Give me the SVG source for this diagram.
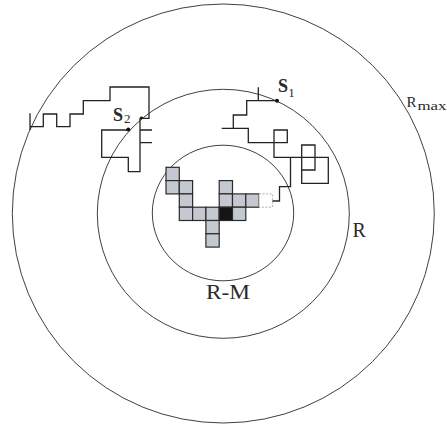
<svg xmlns="http://www.w3.org/2000/svg" width="447" height="426" viewBox="0 0 447 426">
<defs>
<style>
.ring{fill:none;stroke:#2a2a2a;stroke-width:0.9}
.walk{fill:none;stroke:#222;stroke-width:1.3;stroke-linejoin:miter}
.cell{fill:#c4c8d0;stroke:#2a2a2a;stroke-width:1.2}
.core{fill:#151515;stroke:#2a2a2a;stroke-width:1.2}
.ghost{fill:#fff;stroke:#b0b0b0;stroke-width:1;stroke-dasharray:2 1.5}
text{font-family:'Liberation Serif',serif;fill:#2a2a2a}
</style>
</defs>
<rect width="447" height="426" fill="#fff"/>
<g id="rings">
<ellipse id="ring-rmax" class="ring" cx="223.3" cy="213.5" rx="211" ry="209.5"/>
<ellipse id="ring-r" class="ring" cx="223.3" cy="213.8" rx="126" ry="124.5"/>
<ellipse id="ring-rm" class="ring" cx="223" cy="213" rx="70.7" ry="67.8"/>
</g>
<g id="cluster">
<rect class="cell" x="166" y="167.3" width="13.3" height="13.3"/>
<rect class="cell" x="166" y="180.6" width="13.3" height="13.3"/>
<rect class="cell" x="179.3" y="180.6" width="13.3" height="13.3"/>
<rect class="cell" x="219.2" y="180.6" width="13.3" height="13.3"/>
<rect class="cell" x="179.3" y="193.9" width="13.3" height="13.3"/>
<rect class="cell" x="219.2" y="193.9" width="13.3" height="13.3"/>
<rect class="cell" x="232.5" y="193.9" width="13.3" height="13.3"/>
<rect class="cell" x="245.8" y="193.9" width="13.3" height="13.3"/>
<rect class="cell" x="179.3" y="207.2" width="13.3" height="13.3"/>
<rect class="cell" x="192.6" y="207.2" width="13.3" height="13.3"/>
<rect class="cell" x="205.9" y="207.2" width="13.3" height="13.3"/>
<rect class="core" x="219.2" y="207.2" width="13.3" height="13.3"/>
<rect class="cell" x="232.5" y="207.2" width="13.3" height="13.3"/>
<rect class="cell" x="205.9" y="220.5" width="13.3" height="13.3"/>
<rect class="cell" x="205.9" y="233.8" width="13.3" height="13.3"/>
<rect class="ghost" x="259.1" y="193.9" width="13.3" height="13.3"/>
</g>
<g id="walk-s1">
<path class="walk" d="M258.3,87.3 V100.7 M275,100.7 H246.7 V115 H233.3 V128.3 H221.7 M233.3,128.3 H248.3 V142.7 H287.3 V130 H274 V157.3 H328.3 V183.3 H301.7 V145 H315 V170 H301.7 M290.5,157.3 V186.7 H279.5 V201 H272.4"/>
<circle cx="277" cy="100.8" r="2" fill="#111"/>
</g>
<g id="walk-s2">
<path class="walk" d="M30,113.3 V130 M30,126.7 H43.3 V114 H56.7 V126.7 H70 V114 H83.3 V100.7 H110 V87 H149 V118.3 H140 V171.7 H128.3 V157.3 H101.7 V130 H128.3 M140,130 H152 M140,142.7 H152"/>
<circle cx="128.3" cy="129.5" r="2" fill="#111"/>
<circle cx="141.5" cy="118" r="1.4" fill="#111"/>
</g>
<g id="labels">
<text x="278" y="91.7" font-family="Liberation Serif, serif" font-weight="bold" font-size="18">S</text>
<text x="288.3" y="96.5" font-family="Liberation Serif, serif" font-size="13">1</text>
<text x="113" y="121" font-family="Liberation Serif, serif" font-weight="bold" font-size="18">S</text>
<text x="124" y="123" font-family="Liberation Serif, serif" font-size="13">2</text>
<text x="406.5" y="107" font-family="Liberation Serif, serif" font-size="15">R</text>
<text x="417.5" y="110" font-family="Liberation Serif, serif" font-size="13" textLength="29" lengthAdjust="spacingAndGlyphs">max</text>
<text x="352.5" y="237.3" font-family="Liberation Serif, serif" font-size="20">R</text>
<text x="206" y="298.5" font-family="Liberation Serif, serif" font-size="20" textLength="44" lengthAdjust="spacingAndGlyphs">R-M</text>
</g>
</svg>
